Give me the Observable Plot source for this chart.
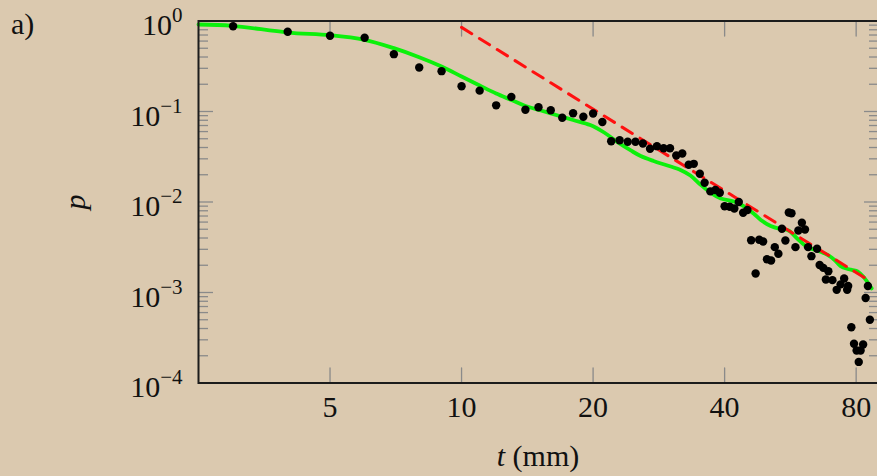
<!DOCTYPE html>
<html><head><meta charset="utf-8">
<script src="https://cdn.jsdelivr.net/npm/d3@7"></script>
<script src="https://cdn.jsdelivr.net/npm/@observablehq/plot@0.6"></script>
<style>
html,body{margin:0;padding:0;background:#dbc9af;overflow:hidden;}
#chart{position:relative;width:877px;height:476px;overflow:hidden;}
#chart svg{max-width:none !important;display:block;}
</style></head><body><div id="chart"></div>
<script>
// measured points
const obsT = [3.0, 4.0, 5.0, 6.0, 7.0, 8.0, 9.0, 10, 11, 12, 13, 14, 15, 16, 17, 18, 19, 20, 21, 22, 23, 24, 25, 26, 27, 28, 29, 30, 31, 32, 33.1, 34, 35.1, 36, 37.1, 38.1, 39, 40, 41.1, 42.1, 43.1, 44.1, 45.1, 46, 47.1, 48, 49, 50, 51.1, 52.1, 53.1, 54.1, 55.1, 56.1, 56.9, 58.1, 59, 60.1, 61.1, 62.1, 63.2, 65.1, 66, 67.3, 68.2, 69.1, 70.6, 72.2, 73.7, 75.1, 76.3, 76.7, 78, 79.1, 80.2, 81.1, 81.9, 83, 84.1, 85.1, 86];
const obsP = [0.876, 0.760, 0.686, 0.652, 0.430, 0.306, 0.279, 0.190, 0.170, 0.117, 0.145, 0.1044, 0.1116, 0.1034, 0.0852, 0.0958, 0.0874, 0.0950, 0.0766, 0.0470, 0.0481, 0.0464, 0.0463, 0.0443, 0.0387, 0.0414, 0.0393, 0.0393, 0.0327, 0.0344, 0.0258, 0.0264, 0.0205, 0.0163, 0.0131, 0.01357, 0.01267, 0.00899, 0.00885, 0.00848, 0.0100, 0.0076, 0.00816, 0.00378, 0.00162, 0.00382, 0.00366, 0.00233, 0.00226, 0.00317, 0.00268, 0.00506, 0.00375, 0.00766, 0.00752, 0.00317, 0.00484, 0.00589, 0.00497, 0.00317, 0.00252, 0.00304, 0.00201, 0.00187, 0.00139, 0.00172, 0.00137, 0.00107, 0.00123, 0.00143, 0.00107, 0.00118, 0.000413, 0.000271, 0.000229, 0.000171, 0.000229, 0.000266, 0.000869, 0.00118, 0.000499];
// green model curve
const fitT = [2.5, 2.99, 4.0, 5.0, 6.0, 7.0, 8.0, 9.0, 10, 11, 12, 13, 14, 15.2, 16.6, 18.0, 19.7, 21.2, 22.8, 24.4, 25.7, 27.5, 29.6, 31.7, 33.4, 35.2, 37.2, 39.2, 42.0, 44.2, 46.6, 48.4, 51.0, 53.7, 56.0, 58.8, 62.0, 65.3, 68.8, 71.4, 73.7, 76.5, 78.5, 80.6, 83.2, 86.8];
const fitP = [0.915, 0.885, 0.746, 0.697, 0.620, 0.501, 0.398, 0.314, 0.2436, 0.1938, 0.158, 0.134, 0.115, 0.1026, 0.0903, 0.0805, 0.0709, 0.0586, 0.0455, 0.0371, 0.0322, 0.0284, 0.0253, 0.0226, 0.0196, 0.0156, 0.01258, 0.01093, 0.01013, 0.00903, 0.00746, 0.00633, 0.00543, 0.00503, 0.00484, 0.0039, 0.00314, 0.00291, 0.0026, 0.00229, 0.00196, 0.00182, 0.00177, 0.00171, 0.00148, 0.00111];
// red power law (slope -3)
const powT = [10, 86.2];
const powP = [0.85, 0.00133];
// ticks
const xTicks = [5, 10, 20, 40, 80];
const xTickLabels = ["5", "10", "20", "40", "80"];
const yTicks = [1, 0.1, 0.01, 0.001, 0.0001];
const yTickExps = ["0", "\u22121", "\u22122", "\u22123", "\u22124"];
const yMinorMult = [2, 3, 4, 5, 6, 7, 8, 9];
const yMinor = yTicks.slice(1).flatMap(d => yMinorMult.map(m => m * d));

const obs = obsT.map((t, i) => ({t, p: obsP[i]}));
const fit = fitT.map((t, i) => ({t, p: fitP[i]}));
const pow = powT.map((t, i) => ({t, p: powP[i]}));
const xLab = xTicks.map((t, i) => ({t, label: xTickLabels[i]}));

const tickColor = "#8a8a8a";
const svg = Plot.plot({
  width: 880, height: 476,
  marginLeft: 198, marginRight: 2, marginTop: 20.5, marginBottom: 93.5,
  style: {fontFamily: "'Liberation Serif', serif", fontSize: "30px", background: "transparent", color: "#111"},
  x: {type: "log", domain: [2.5, 90], axis: null},
  y: {type: "log", domain: [1e-4, 1], axis: null},
  marks: [
    Plot.axisY(yMinor, {anchor: "left", tickSize: -10, fill: "none", stroke: tickColor, strokeWidth: 1.3, label: null}),
    Plot.axisY(yTicks, {anchor: "left", tickSize: -15, fill: "none", stroke: tickColor, strokeWidth: 1.3, label: null}),
    Plot.axisY(yMinor, {anchor: "right", tickSize: -10, fill: "none", stroke: tickColor, strokeWidth: 1.3, label: null}),
    Plot.axisY(yTicks, {anchor: "right", tickSize: -15, fill: "none", stroke: tickColor, strokeWidth: 1.3, label: null}),
    Plot.vector(xTicks, {x: d => d, frameAnchor: "top", rotate: 180, anchor: "start", length: 15, stroke: tickColor, strokeWidth: 1.3, shape: {draw(c, l) { c.moveTo(0, 0); c.lineTo(0, -l); }}}),
    Plot.vector(xTicks, {x: d => d, frameAnchor: "bottom", rotate: 0, anchor: "start", length: 15, stroke: tickColor, strokeWidth: 1.3, shape: {draw(c, l) { c.moveTo(0, 0); c.lineTo(0, -l); }}}),
    Plot.text(xLab, {x: "t", text: "label", frameAnchor: "bottom", lineAnchor: "top", dy: 13, fill: "#111"}),
    Plot.axisY(yTicks, {anchor: "left", tickSize: 0, tickPadding: 16, label: null, fill: "#111", dy: 4.5,
      tickFormat: d => "10|" + yTickExps[yTicks.indexOf(d)]}),
    Plot.line(fit, {x: "t", y: "p", stroke: "#0cf00c", strokeWidth: 3.8, curve: "catmull-rom"}),
    Plot.line(pow, {x: "t", y: "p", stroke: "#ff1010", strokeWidth: 3, strokeDasharray: "12,9"}),
    Plot.dot(obs, {x: "t", y: "p", r: 4.2, fill: "#000", stroke: "none"}),
    Plot.frame({stroke: "#1c1c1c", strokeWidth: 2})
  ]
});

d3.select(svg).selectAll('g[aria-label="y-axis tick label"] text').each(function() {
  const s = this.textContent.split("|");
  const t = d3.select(this);
  t.text(null);
  t.append("tspan").text(s[0]);
  t.append("tspan").attr("dy", -13).attr("font-size", 21).text(s[1]);
});

const s = d3.select(svg);
s.append("text").attr("x", 11).attr("y", 33.5).attr("text-anchor", "start").attr("font-size", 30).attr("fill", "#111").text("a)");
s.append("text").attr("transform", "translate(85,202) rotate(-90)").attr("text-anchor", "middle")
  .attr("font-size", 30).attr("font-style", "italic").attr("fill", "#111").text("p");
const xl = s.append("text").attr("x", 538).attr("y", 466).attr("text-anchor", "middle").attr("font-size", 30).attr("fill", "#111");
xl.append("tspan").attr("font-style", "italic").text("t");
xl.append("tspan").text(" (mm)");

document.getElementById("chart").appendChild(svg);
</script>
</body></html>
